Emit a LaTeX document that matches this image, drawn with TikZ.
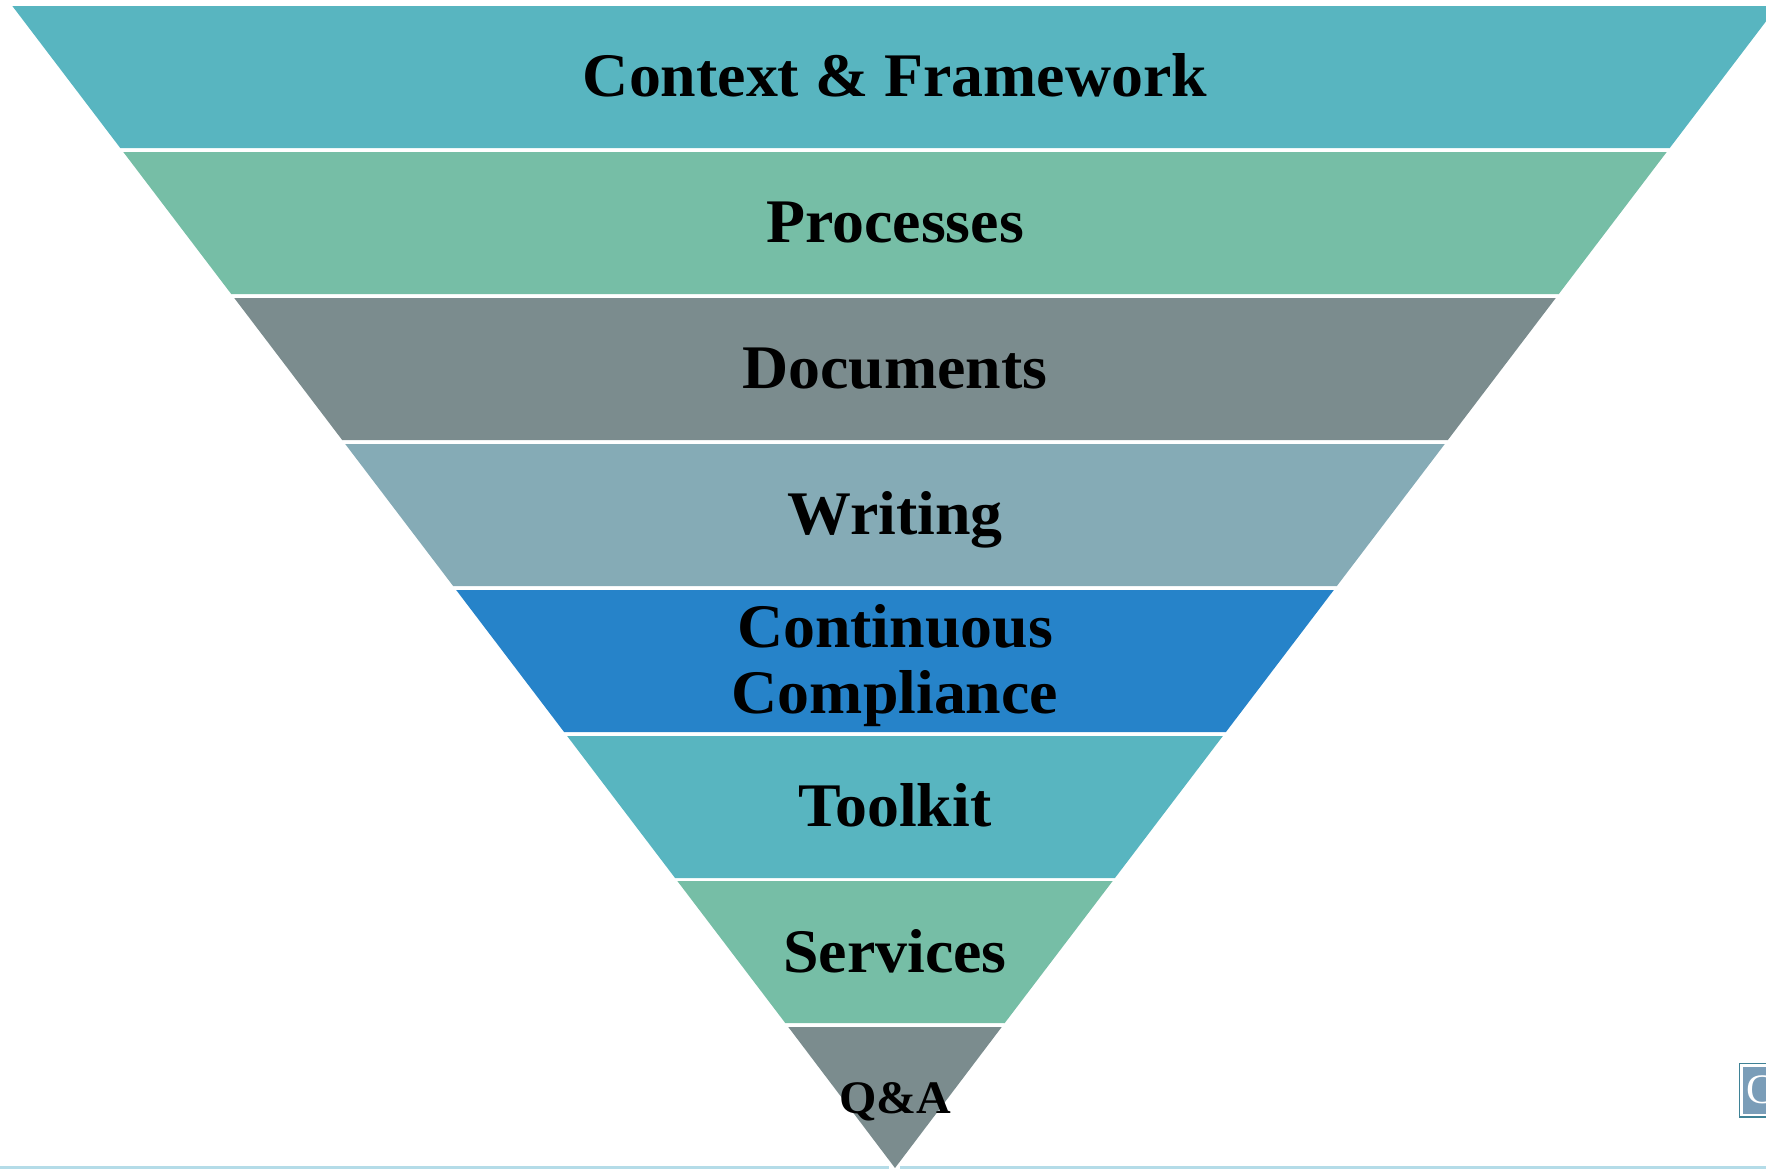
\documentclass[tikz,border=0pt]{standalone}
\usepackage{fontspec}
\setmainfont{Liberation Serif}[BoldFeatures={FakeStretch=1.03}]
\newfontfamily\logofont{Liberation Serif}
\definecolor{cteal}{HTML}{58B5C0}
\definecolor{cgreen}{HTML}{76BEA6}
\definecolor{cgrey}{HTML}{7B8C8E}
\definecolor{csteel}{HTML}{85ABB6}
\definecolor{cblue}{HTML}{2683C9}
\definecolor{cline}{HTML}{B4DCE8}
\definecolor{csq}{HTML}{7A9DB8}
\definecolor{csqb}{HTML}{3F8296}
\tikzset{
  lab/.style={font=\bfseries\fontsize{31}{31}\selectfont, text=black, inner sep=0pt, anchor=base, align=center},
  qa/.style={font=\bfseries\fontsize{23.3}{24}\selectfont, text=black, inner sep=0pt, anchor=base}
}
\newcommand{\band}[3]{% top y, bottom y, colour
  \fill[#3] ({895-(1167.4-#1)*0.76},#1) -- ({895+(1167.4-#1)*0.76},#1) -- ({895+(1167.4-#2)*0.76},#2) -- ({895-(1167.4-#2)*0.76},#2) -- cycle;}
\begin{document}
\begin{tikzpicture}[x=0.5pt,y=-0.5pt]
\useasboundingbox (0,0) rectangle (1766,1169);
\begin{scope}
\clip (0,0) rectangle (1766,1169);
\fill[cline] (0,1166) rectangle (889,1169);
\fill[cline] (900,1166) rectangle (1766,1169);
\band{6}{148}{cteal}
\band{152}{294}{cgreen}
\band{298}{440}{cgrey}
\band{444}{586}{csteel}
\band{590}{732}{cblue}
\band{736}{878}{cteal}
\band{881}{1023}{cgreen}
\fill[cgrey] ({895-140.4*0.76},1027) -- ({895+140.4*0.76},1027) -- (895,1168) -- cycle;
\draw[csqb,line width=0.6pt,fill=white] (1739.5,1063.5) rectangle (1770,1117);
\fill[csq] (1742.5,1066.5) rectangle (1770,1113.5);
\node[font=\logofont\fontsize{21}{21}\selectfont,text=white,inner sep=0pt,anchor=base west] (logo) at (1746,1103.5) {C};
\end{scope}
\node[lab] (n1) at (895,96) {Context \& Framework};
\node[lab] (n2) at (895,242) {Processes};
\node[lab] (n3) at (895,388) {Documents};
\node[lab] (n4) at (895,534) {Writing};
\node[lab] (n5a) at (895,647) {Continuous};
\node[lab] (n5b) at (895,713) {Compliance};
\node[lab] (n6) at (895,826) {Toolkit};
\node[lab] (n7) at (895,972) {Services};
\node[qa] (n8) at (895,1113) {Q\&A};
\end{tikzpicture}
\end{document}
